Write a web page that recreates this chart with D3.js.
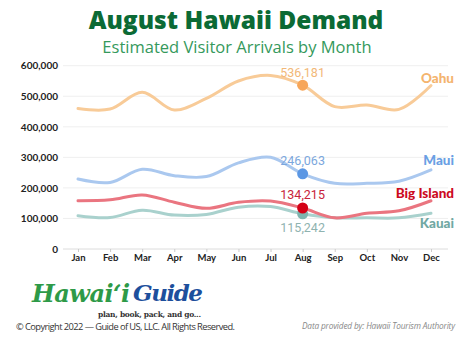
<!DOCTYPE html>
<html><head><meta charset="utf-8">
<script src="https://cdn.jsdelivr.net/npm/d3@7"></script>
<style>body{margin:0;background:#fff}svg{display:block}</style>
</head><body>
<script>
const months = ["Jan","Feb","Mar","Apr","May","Jun","Jul","Aug","Sep","Oct","Nov","Dec"];
const yTicks = [0,100000,200000,300000,400000,500000,600000];
const oahu = [460000,458000,513000,455000,493000,550000,568000,536181,466000,471000,457000,535000];
const maui = [229000,218000,261000,240000,237000,282000,300000,246063,215000,215000,222000,259000];
const bigIsland = [158000,161000,177000,153000,133000,153000,157000,134215,102000,117000,125000,158000];
const kauai = [109000,103000,127000,111000,113000,137000,139000,115242,102000,102000,102000,117000];
const highlightMonth = "Aug";

const series = [
  {name:"Oahu", values:oahu, line:"#f8cb98", dot:"#f7a659", label:"#f4b46e", valColor:"#f2b878", ly:78, vy:73},
  {name:"Maui", values:maui, line:"#aac8ef", dot:"#5b97e4", label:"#6a9fe4", valColor:"#7ba7dd", ly:160, vy:161},
  {name:"Big Island", values:bigIsland, line:"#ea7580", dot:"#d40015", label:"#cc0a1e", valColor:"#c8233a", ly:193, vy:195},
  {name:"Kauai", values:kauai, line:"#a9d1cd", dot:"#7db4ae", label:"#71a8a3", valColor:"#8fb3b0", ly:223, vy:228}
];

const W=474,H=346;
const svg=d3.select("body").append("svg").attr("width",W).attr("height",H);
const x=d3.scalePoint().domain(months).range([78,431]);
const y=d3.scaleLinear().domain([0,600000]).range([249,65.7]);

svg.append("text").attr("x",236).attr("y",29).attr("text-anchor","middle")
  .attr("font-family","Open Sans").attr("font-weight",800).attr("font-size",24.5)
  .attr("fill","#0b6a35").text("August Hawaii Demand");
svg.append("text").attr("x",237).attr("y",53).attr("text-anchor","middle")
  .attr("font-family","Open Sans").attr("font-size",16.5)
  .attr("fill","#35995c").text("Estimated Visitor Arrivals by Month");

// grid
svg.append("g").selectAll("line").data(yTicks).join("line")
  .attr("x1",63).attr("x2",448).attr("y1",d=>y(d)).attr("y2",d=>y(d))
  .attr("stroke",d=>d===0?"#dcdcdc":"#efefef").attr("stroke-width",1);

const yAxis=svg.append("g").attr("transform","translate(60,0)")
  .call(d3.axisLeft(y).tickValues(yTicks).tickSize(0).tickPadding(2).tickFormat(d3.format(",")));
yAxis.select(".domain").remove();
yAxis.selectAll("text").attr("font-family","Lato").attr("font-weight",700).attr("font-size",10).attr("fill","#222");

const xAxis=svg.append("g").attr("transform","translate(0,249)")
  .call(d3.axisBottom(x).tickSize(3).tickPadding(2));
xAxis.select(".domain").remove();
xAxis.selectAll("line").attr("stroke","#ccc");
xAxis.selectAll("text").attr("font-family","Lato").attr("font-weight",700).attr("font-size",9.5).attr("fill","#222");

const line=d3.line().x((d,i)=>x(months[i])).y(d=>y(d)).curve(d3.curveCatmullRom.alpha(0.5));
const hi=months.indexOf(highlightMonth);

series.slice().reverse().forEach(s=>{
  svg.append("path").attr("d",line(s.values)).attr("fill","none")
    .attr("stroke",s.line).attr("stroke-width",3).attr("stroke-linecap","round");
});
series.slice().reverse().forEach(s=>{
  svg.append("circle").attr("cx",x(highlightMonth)).attr("cy",y(s.values[hi])).attr("r",5.5).attr("fill",s.dot);
  svg.append("text").attr("x",x(highlightMonth)).attr("y",s.vy).attr("dy","0.35em").attr("text-anchor","middle")
    .attr("font-family","Roboto").attr("font-size",12.5).attr("fill",s.valColor)
    .text(d3.format(",")(s.values[hi]));
  svg.append("text").attr("x",454).attr("y",s.ly).attr("dy","0.35em").attr("text-anchor","end")
    .attr("font-family","Lato").attr("font-weight",900).attr("font-size",13.5).attr("fill",s.label)
    .text(s.name);
});

// logo
const logo=svg.append("g");
logo.append("text").attr("x",32).attr("y",302).attr("font-family","DejaVu Serif").attr("font-style","italic")
  .attr("font-weight",700).attr("font-size",24).attr("fill","#2e9a48").attr("textLength",98).text("Hawaiʻi");
logo.append("text").attr("x",133).attr("y",301).attr("font-family","DejaVu Serif").attr("font-style","italic")
  .attr("font-weight",700).attr("font-size",23).attr("fill","#1d4f9c").attr("textLength",70).text("Guide");
logo.append("text").attr("x",98).attr("y",317).attr("font-family","DejaVu Serif").attr("font-weight",700)
  .attr("font-size",7.5).attr("fill","#333").attr("textLength",103).text("plan, book, pack, and go...");

svg.append("text").attr("x",16).attr("y",330).attr("font-family","Open Sans").attr("font-size",9.3)
  .attr("fill","#333").attr("textLength",219).text("© Copyright 2022 — Guide of US, LLC. All Rights Reserved.");
svg.append("text").attr("x",302).attr("y",329).attr("font-family","Open Sans").attr("font-style","italic")
  .attr("font-size",8.3).attr("fill","#888").attr("textLength",153).text("Data provided by: Hawaii Tourism Authority");
</script>
</body></html>
